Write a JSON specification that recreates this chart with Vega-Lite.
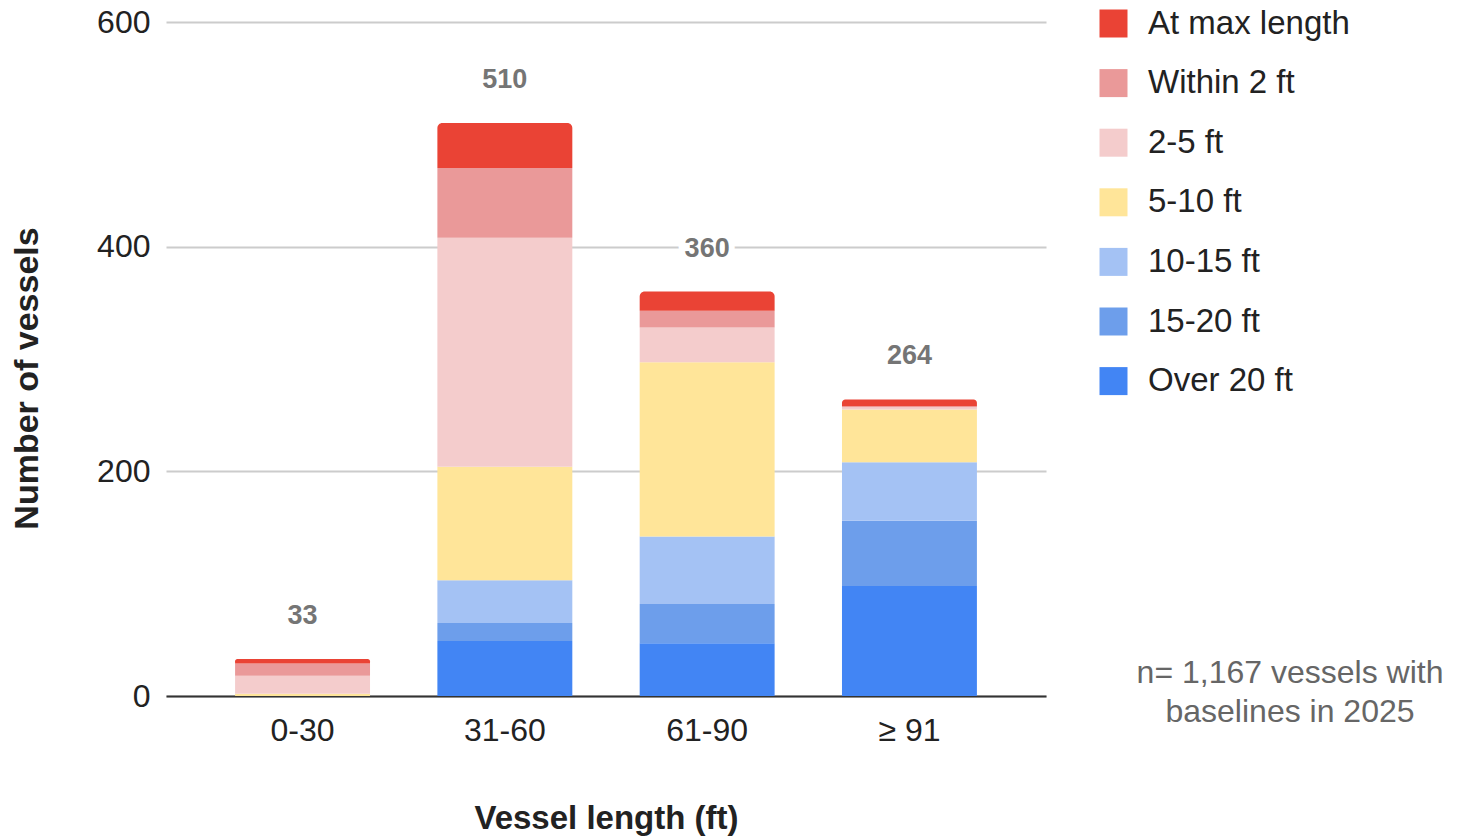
{
  "$schema": "https://vega.github.io/schema/vega-lite/v6.json",
  "width": 880,
  "height": 674,
  "autosize": {"type": "none"},
  "padding": {"left": 166, "top": 22, "right": 411, "bottom": 140},
  "background": "white",
  "config": {"font": "Liberation Sans", "view": {"stroke": null}},
  "title": {
    "text": ["n= 1,167 vessels with", "baselines in 2025"],
    "orient": "bottom",
    "anchor": "end",
    "frame": "group",
    "align": "center",
    "dx": 244,
    "offset": -177,
    "fontSize": 32,
    "fontWeight": "normal",
    "color": "#666666",
    "lineHeight": 39
  },
  "data": {
    "values": [
      {"len": "0-30", "cat": "Over 20 ft", "ord": 1, "n": 0},
      {"len": "0-30", "cat": "15-20 ft", "ord": 2, "n": 0},
      {"len": "0-30", "cat": "10-15 ft", "ord": 3, "n": 0},
      {"len": "0-30", "cat": "5-10 ft", "ord": 4, "n": 2},
      {"len": "0-30", "cat": "2-5 ft", "ord": 5, "n": 16},
      {"len": "0-30", "cat": "Within 2 ft", "ord": 6, "n": 11},
      {"len": "0-30", "cat": "At max length", "ord": 7, "n": 4},
      {"len": "31-60", "cat": "Over 20 ft", "ord": 1, "n": 49},
      {"len": "31-60", "cat": "15-20 ft", "ord": 2, "n": 16},
      {"len": "31-60", "cat": "10-15 ft", "ord": 3, "n": 38},
      {"len": "31-60", "cat": "5-10 ft", "ord": 4, "n": 101},
      {"len": "31-60", "cat": "2-5 ft", "ord": 5, "n": 204},
      {"len": "31-60", "cat": "Within 2 ft", "ord": 6, "n": 62},
      {"len": "31-60", "cat": "At max length", "ord": 7, "n": 40},
      {"len": "61-90", "cat": "Over 20 ft", "ord": 1, "n": 47},
      {"len": "61-90", "cat": "15-20 ft", "ord": 2, "n": 35},
      {"len": "61-90", "cat": "10-15 ft", "ord": 3, "n": 60},
      {"len": "61-90", "cat": "5-10 ft", "ord": 4, "n": 155},
      {"len": "61-90", "cat": "2-5 ft", "ord": 5, "n": 31},
      {"len": "61-90", "cat": "Within 2 ft", "ord": 6, "n": 15},
      {"len": "61-90", "cat": "At max length", "ord": 7, "n": 17},
      {"len": "≥ 91", "cat": "Over 20 ft", "ord": 1, "n": 98},
      {"len": "≥ 91", "cat": "15-20 ft", "ord": 2, "n": 58},
      {"len": "≥ 91", "cat": "10-15 ft", "ord": 3, "n": 52},
      {"len": "≥ 91", "cat": "5-10 ft", "ord": 4, "n": 47},
      {"len": "≥ 91", "cat": "2-5 ft", "ord": 5, "n": 2},
      {"len": "≥ 91", "cat": "Within 2 ft", "ord": 6, "n": 1},
      {"len": "≥ 91", "cat": "At max length", "ord": 7, "n": 6}
    ]
  },
  "transform": [
    {"stack": "n", "groupby": ["len"], "sort": [{"field": "ord", "order": "ascending"}], "as": ["y0", "y1"]}
  ],
  "encoding": {
    "x": {
      "field": "len",
      "type": "nominal",
      "sort": ["0-30", "31-60", "61-90", "≥ 91"],
      "scale": {"paddingInner": 0.333, "paddingOuter": 0.3415},
      "axis": {
        "title": "Vessel length (ft)",
        "labelAngle": 0,
        "ticks": false,
        "grid": false,
        "domainColor": "#333333",
        "domainWidth": 2,
        "labelFontSize": 32,
        "labelColor": "#222222",
        "labelPadding": 19,
        "titleFontSize": 33,
        "titleFontWeight": "bold",
        "titleColor": "#222222",
        "titlePadding": 56
      }
    }
  },
  "layer": [
    {
      "transform": [{"filter": "datum.cat !== 'At max length'"}],
      "mark": {"type": "bar", "strokeWidth": 0},
      "encoding": {
        "y": {
          "field": "y1",
          "type": "quantitative",
          "scale": {"domain": [0, 600]},
          "axis": {
            "title": "Number of vessels",
            "values": [0, 200, 400, 600],
            "domain": false,
            "ticks": false,
            "gridColor": "#cccccc",
            "gridWidth": 2,
            "labelFontSize": 32,
            "labelColor": "#222222",
            "labelPadding": 16,
            "titleFontSize": 34,
            "titleFontWeight": "bold",
            "titleColor": "#222222",
            "titlePadding": 52,
            "titleY": 356
          }
        },
        "y2": {"field": "y0"},
        "color": {
          "field": "cat",
          "type": "nominal",
          "scale": {
            "domain": ["At max length", "Within 2 ft", "2-5 ft", "5-10 ft", "10-15 ft", "15-20 ft", "Over 20 ft"],
            "range": ["#ea4335", "#ea9999", "#f4cccc", "#ffe599", "#a4c2f4", "#6d9eeb", "#4285f4"]
          },
          "legend": {
            "orient": "none",
            "legendX": 931,
            "legendY": -15,
            "title": null,
            "symbolType": "square",
            "symbolSize": 784,
            "symbolStrokeWidth": 0,
            "symbolOpacity": 1,
            "labelFontSize": 33,
            "labelColor": "#222222",
            "labelOffset": 18,
            "rowPadding": 25.6,
            "labelLimit": 400
          }
        }
      }
    },
    {
      "transform": [{"filter": "datum.cat === 'At max length'"}],
      "mark": {"type": "bar", "strokeWidth": 0, "cornerRadiusTopLeft": 5, "cornerRadiusTopRight": 5},
      "encoding": {
        "y": {"field": "y1", "type": "quantitative"},
        "y2": {"field": "y0"},
        "color": {"field": "cat", "type": "nominal"}
      }
    },
    {
      "transform": [{"aggregate": [{"op": "sum", "field": "n", "as": "total"}], "groupby": ["len"]}],
      "mark": {"type": "text", "dy": -43, "baseline": "middle", "fontSize": 27, "fontWeight": "bold", "color": "#757575", "stroke": "white", "strokeWidth": 12},
      "encoding": {
        "y": {"field": "total", "type": "quantitative"},
        "text": {"field": "total", "type": "quantitative"}
      }
    },
    {
      "transform": [{"aggregate": [{"op": "sum", "field": "n", "as": "total"}], "groupby": ["len"]}],
      "mark": {"type": "text", "dy": -43, "baseline": "middle", "fontSize": 27, "fontWeight": "bold", "color": "#757575"},
      "encoding": {
        "y": {"field": "total", "type": "quantitative"},
        "text": {"field": "total", "type": "quantitative"}
      }
    }
  ]
}
